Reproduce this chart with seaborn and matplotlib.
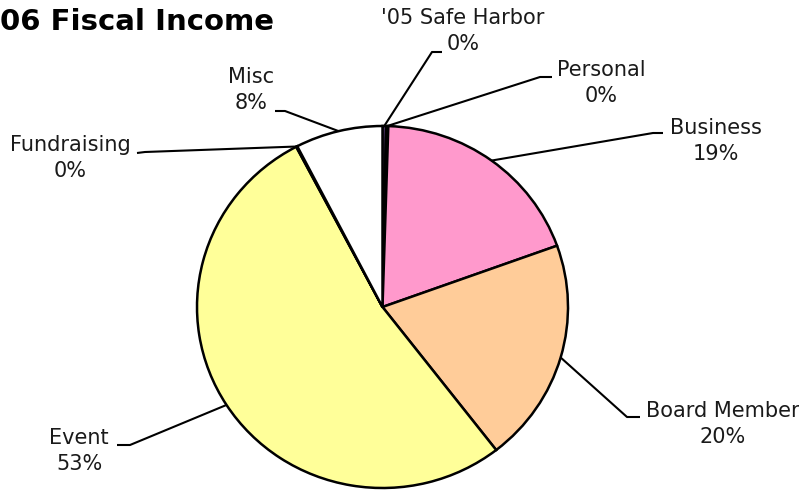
import numpy as np
import matplotlib
matplotlib.use("Agg")
import matplotlib.pyplot as plt
import seaborn as sns
from matplotlib.lines import Line2D

# data (percent of fiscal income), clockwise from 12 o'clock
categories = ["'05 Safe Harbor", "Personal", "Business", "Board Member",
              "Event", "Fundraising", "Misc"]
shares = [0.3, 0.2, 19.0, 20.0, 52.8, 0.1, 7.6]
colors = ["#9966CC", "#CCCCFF", "#FF99CC", "#FFCC99", "#FFFF99", "#CCFFFF", "#FFFFFF"]

# label block centres and leader-line elbows, in image pixels (y down)
label_pos = [(463, 31), (601, 83), (716, 141), (723, 424), (79, 451), (70, 158), (251, 90)]
elbows = [((432, 52), (442, 52)), ((540, 77), (552, 77)), ((653, 133), (663, 133)),
          ((627, 417), (640, 417)), ((130, 445), (117, 445)), ((145, 152), (137, 153)),
          ((285, 111), (275, 111))]

W, H = 799, 490

sns.set_style("white")
plt.rcParams['font.family'] = ['DejaVu Sans']

fig = plt.figure(figsize=(W / 100, H / 100), dpi=100)
fig.patch.set_facecolor("white")

# pie area (slightly flattened like the original)
ax = fig.add_axes([197 / W, (H - 488) / H, 371 / W, 362 / H])
wedges, _ = ax.pie(shares, colors=colors, startangle=90, counterclock=False,
                   wedgeprops=dict(edgecolor="black", linewidth=1.8))
ax.set_aspect("auto")
ax.set_xlim(-1, 1)
ax.set_ylim(-1, 1)
ax.axis("off")

def to_fig(px, py):
    return px / W, 1 - py / H

to_figure = ax.transData + fig.transFigure.inverted()

for w, name, val, (tx, ty), (e1, e2) in zip(wedges, categories, shares, label_pos, elbows):
    mid = np.deg2rad((w.theta1 + w.theta2) / 2)
    sx, sy = to_figure.transform((np.cos(mid), np.sin(mid)))
    xs = [sx, to_fig(*e1)[0], to_fig(*e2)[0]]
    ys = [sy, to_fig(*e1)[1], to_fig(*e2)[1]]
    fig.add_artist(Line2D(xs, ys, color="black", linewidth=1.5,
                          transform=fig.transFigure, solid_capstyle="butt"))
    fx, fy = to_fig(tx, ty)
    fig.text(fx, fy, f"{name}\n{round(val)}%", ha="center", va="center",
             multialignment="center", fontsize=15, linespacing=1.35, color="#1a1a1a")

fig.text(0, 1 - 22 / H, "06 Fiscal Income", ha="left", va="center",
         fontsize=21, fontweight="bold", color="black")

fig.savefig("out.png", dpi=100)
